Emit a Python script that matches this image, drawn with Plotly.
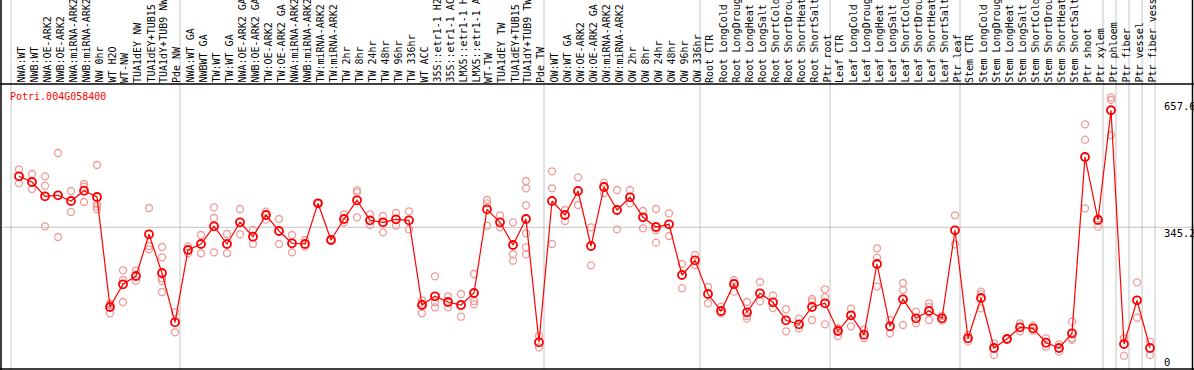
import plotly.graph_objects as go

gene = "Potri.004G058400"

labels = [
    "NWA:WT", "NWB:WT", "NWA:OE-ARK2", "NWB:OE-ARK2", "NWA:miRNA-ARK2", "NWB:miRNA-ARK2",
    "NW 0hr", "WT H2O", "WT-NW", "TUA1dEY NW", "TUA1dEY+TUB15", "TUA1dY+TUB9 NW", "Pde NW",
    "NWA:WT GA", "NWBWT GA", "TW:WT", "TW:WT GA", "NWA:OE-ARK2 GA", "NWB:OE-ARK2 GA",
    "TW:OE-ARK2", "TW:OE-ARK2 GA", "NWA:miRNA-ARK2", "NWB:miRNA-ARK2", "TW:miRNA-ARK2",
    "TW:miRNA-ARK2", "TW 2hr", "TW 8hr", "TW 24hr", "TW 48hr", "TW 96hr", "TW 336hr",
    "WT ACC", "35S::etr1-1 H2O", "35S::etr1-1 ACC", "LMX5::etr1-1 H2O", "LMX5::etr1-1 ACC",
    "WT-TW", "TUA1dEY TW", "TUA1dEY+TUB15", "TUA1dY+TUB9 TW", "Pde TW",
    "OW:WT", "OW:WT GA", "OW:OE-ARK2", "OW:OE-ARK2 GA", "OW:miRNA-ARK2", "OW:miRNA-ARK2",
    "OW 2hr", "OW 8hr", "OW 24hr", "OW 48hr", "OW 96hr", "OW 336hr",
    "Root CTR", "Root LongCold", "Root LongDrought", "Root LongHeat", "Root LongSalt",
    "Root ShortCold", "Root ShortDrought", "Root ShortHeat", "Root ShortSalt", "Ptr root",
    "Leaf CTR", "Leaf LongCold", "Leaf LongDrought", "Leaf LongHeat", "Leaf LongSalt",
    "Leaf ShortCold", "Leaf ShortDrought", "Leaf ShortHeat", "Leaf ShortSalt", "Ptr leaf",
    "Stem CTR", "Stem LongCold", "Stem LongDrought", "Stem LongHeat", "Stem LongSalt",
    "Stem ShortCold", "Stem ShortDrought", "Stem ShortHeat", "Stem ShortSalt",
    "Ptr shoot", "Ptr xylem", "Ptr phloem", "Ptr fiber", "Ptr vessel", "Ptr fiber vessel",
]

means = [
    481.3, 466.1, 427.9, 430.6, 415.4, 442.9, 426.1, 132.4, 193.0, 215.2, 326.5, 223.2, 91.6,
    284.6, 300.6, 347.8, 300.6, 358.5, 320.1, 378.0, 335.3, 302.5, 300.6, 409.2, 311.3,
    367.3, 417.2, 363.9, 358.5, 366.5, 363.9, 137.7, 161.0, 145.8, 137.7, 169.8,
    393.2, 358.5, 297.9, 367.3, 38.2,
    415.4, 378.0, 442.1, 295.2, 452.7, 391.3, 425.3, 371.9, 346.0, 353.2, 217.8, 257.1,
    167.1, 121.7, 193.8, 118.3, 169.0, 145.0, 96.9, 86.2, 132.4, 142.3,
    68.3, 110.3, 58.5, 247.2, 80.9, 153.0, 102.2, 121.7, 102.2, 337.2,
    48.9, 156.4, 23.0, 47.0, 78.2, 75.5, 37.1, 23.0, 62.2,
    532.8, 364.7, 657.6, 33.6, 150.3, 23.0,
]

replicates = [
    [500.0, 462.6], [487.5, 447.4], [481.3, 456.2, 347.8], [543.5, 319.3], [442.1, 386.1],
    [460.8, 453.5, 412.7], [511.5, 407.4, 400.2, 393.2], [141.2, 137.7, 115.6],
    [230.4, 204.5, 145.8], [230.4, 202.6], [396.7, 295.2, 286.4],
    [292.6, 265.1, 209.0, 201.8, 172.4], [118.3, 64.9],
    [294.4, 275.8], [324.6, 275.8], [398.6, 370.0, 278.4], [327.3, 275.8], [394.0, 326.5],
    [338.0, 300.6], [386.8, 365.5], [367.3, 300.6], [324.6, 278.4], [311.3, 293.4],
    [410.5, 408.0], [312.5, 310.0], [379.9, 358.5], [443.9, 438.6, 371.9], [379.9, 351.3],
    [375.3, 358.5, 331.8], [383.3, 349.4], [387.9, 339.8],
    [150.3, 141.2, 115.6], [214.4, 145.0, 131.6], [161.0, 131.6], [167.1, 106.5],
    [220.5, 148.4, 139.6], [418.0, 409.2, 349.4], [377.2, 345.2], [358.5, 273.1, 256.0],
    [468.8, 449.3, 403.9, 329.2, 291.8, 273.1], [55.0, 24.8],
    [494.7, 449.3, 300.6], [391.3, 362.0], [478.6, 404.7], [345.2, 243.7], [464.2, 436.7],
    [444.7, 339.8], [444.7, 409.2], [388.7, 372.0, 342.5], [394.0, 338.0, 304.1],
    [382.5, 321.9], [247.2, 182.3], [271.2, 244.5],
    [185.8, 142.3], [133.2, 115.6], [204.5, 173.3], [145.8, 108.4, 101.2], [199.1, 147.6],
    [162.6, 129.7], [126.3, 67.5], [101.2, 74.5], [153.8, 146.6, 97.7],
    [179.7, 158.3, 86.2],
    [76.0, 73.0, 55.0], [127.9, 110.3, 80.9], [71.8, 49.7], [289.1, 264.0, 187.7],
    [97.7, 62.2], [196.5, 177.8, 84.4], [119.9, 88.9], [142.3, 132.4, 97.7], [108.4, 96.0],
    [377.2, 299.8],
    [58.0, 39.8], [173.3, 167.0, 128.9], [35.5, 4.3], [47.5, 46.5], [88.9, 67.5],
    [82.5, 69.1], [48.9, 26.4], [32.8, 13.1], [93.2, 48.9, 44.5],
    [620.1, 579.0, 395.9], [369.2, 346.8], [692.2, 685.0, 590.8], [48.9, 49.5, 2.4],
    [198.3, 103.8], [39.8, 4.3],
]

# indices after which a group separator is drawn
group_ends = [12, 40, 52, 62, 72, 83, 84, 85, 86, 87]
tick_values = [0, 345.2, 657.6]
tick_texts = ["0", "345.2", "657.6"]

W, H = 1194, 370
# axis ranges chosen so that the whole page is the plotting area
x0_px, step_px = 19.0, 13.0
y0_px, scale = 356.6, 0.3746
xr = [(0 - x0_px) / step_px, (W - x0_px) / step_px]
yr = [(y0_px - H) / scale, (y0_px - 0) / scale]
label_line = (y0_px - 84) / scale

xs = list(range(len(labels)))
rx, ry = [], []
for i, reps in enumerate(replicates):
    for v in reps:
        rx.append(i)
        ry.append(v)

fig = go.Figure()
fig.add_trace(go.Scatter(
    x=rx, y=ry, mode="markers", hoverinfo="skip",
    marker=dict(symbol="circle-open", size=7, color="#f09a9a", line=dict(width=1.3)),
))
fig.add_trace(go.Scatter(
    x=xs, y=means, mode="lines+markers", text=labels,
    line=dict(color="#ff0000", width=1.2),
    marker=dict(symbol="circle-open", size=8, color="#ff0000", line=dict(width=1.8)),
))

shapes = []
gray = "#c4c4c4"
sep_px = lambda i: (i + 0.5) - 1.5 / step_px
seps = [-0.5 - 1.5 / step_px] + [sep_px(i) for i in group_ends]
for s in seps:
    shapes.append(dict(type="line", xref="x", yref="y", x0=s, x1=s, y0=yr[0], y1=yr[1],
                       line=dict(color=gray, width=1), layer="below"))
shapes.append(dict(type="line", xref="x", yref="y", x0=xr[0], x1=xr[1], y0=345.2, y1=345.2,
                   line=dict(color=gray, width=1), layer="below"))
black = "#000000"
shapes.append(dict(type="line", xref="x", yref="y", x0=xr[0], x1=xr[1], y0=label_line, y1=label_line,
                   line=dict(color=black, width=1.5)))
shapes.append(dict(type="line", xref="x", yref="y", x0=xr[0], x1=xr[1],
                   y0=(y0_px - 369) / scale, y1=(y0_px - 369) / scale, line=dict(color=black, width=1.5)))
for px in (1.0, 1192.5):
    xv = (px - x0_px) / step_px
    shapes.append(dict(type="line", xref="x", yref="y", x0=xv, x1=xv, y0=yr[0], y1=yr[1],
                       line=dict(color=black, width=1.5)))

annotations = []
mono = "DejaVu Sans Mono"
for i, lab in enumerate(labels):
    annotations.append(dict(x=i, y=label_line, xref="x", yref="y", text=lab, showarrow=False,
                            textangle=-90, xanchor="center", yanchor="bottom",
                            font=dict(family=mono, size=10, color="#000000"),
                            borderpad=0, xshift=1.5))
shifts = [-5.4, -5.4, 4.3]
for v, t, sh in zip(tick_values, tick_texts, shifts):
    annotations.append(dict(x=(1162.5 - x0_px) / step_px, y=v, xref="x", yref="y", text=t,
                            showarrow=False, xanchor="left", yanchor="middle", yshift=sh,
                            font=dict(family=mono, size=10.5, color="#000000"), borderpad=0))
annotations.append(dict(x=(9 - x0_px) / step_px, y=(y0_px - 96.7) / scale, xref="x", yref="y",
                        text=gene, showarrow=False, xanchor="left", yanchor="middle",
                        font=dict(family=mono, size=10, color="#ff0000"), borderpad=0))

fig.update_layout(
    width=W, height=H, margin=dict(l=0, r=0, t=0, b=0),
    paper_bgcolor="white", plot_bgcolor="white", showlegend=False,
    xaxis=dict(range=xr, visible=False, fixedrange=True),
    yaxis=dict(range=yr, visible=False, fixedrange=True),
    shapes=shapes, annotations=annotations,
)

fig.write_html(
    "out.html",
    config={"displayModeBar": False},
    post_script="document.body.style.margin='0px';document.body.style.overflow='hidden';",
)
